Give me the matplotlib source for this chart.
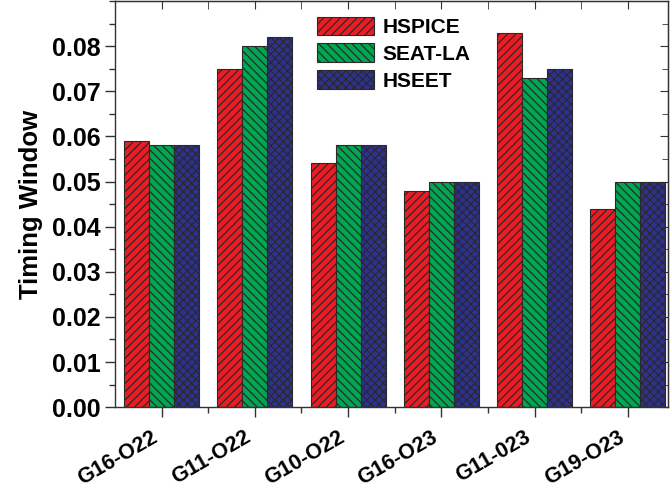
import numpy as np
import matplotlib
matplotlib.use("Agg")
import matplotlib.pyplot as plt
from matplotlib.ticker import MultipleLocator, FixedLocator, FormatStrFormatter

plt.rcParams["font.family"] = ["Liberation Sans", "DejaVu Sans"]
plt.rcParams["font.weight"] = "bold"
plt.rcParams["hatch.linewidth"] = 0.9
plt.rcParams["hatch.color"] = "#2a2a2a"

# ─── Data ─────────────────────────────────────────────────────────────────────
groups = ["G16-O22", "G11-O22", "G10-O22", "G16-O23", "G11-023", "G19-O23"]
hspice = [0.059, 0.075, 0.054, 0.048, 0.083, 0.044]
seat_la = [0.058, 0.080, 0.058, 0.050, 0.073, 0.050]
hseet = [0.058, 0.082, 0.058, 0.050, 0.075, 0.050]
y_ticks = [0.00, 0.01, 0.02, 0.03, 0.04, 0.05, 0.06, 0.07, 0.08]

series = [
    ("HSPICE", hspice, "#ED1C24", "////"),
    ("SEAT-LA", seat_la, "#00A651", "\\\\\\\\"),
    ("HSEET", hseet, "#2E3192", "xxxx"),
]

# ─── Plot ─────────────────────────────────────────────────────────────────────
fig = plt.figure(figsize=(6.72, 4.9), dpi=100)
ax = fig.add_axes([0.171, 0.169, 0.823, 0.829])

x = np.arange(1, len(groups) + 1)
width = 0.268
for i, (name, vals, color, hatch) in enumerate(series):
    ax.bar(x + (i - 1) * width, vals, width, color=color, hatch=hatch,
           edgecolor="#2a2a2a", linewidth=0.8, label=name)

ax.set_xlim(0.5, 6.43)
ax.set_ylim(0, 0.09)

ax.xaxis.set_major_locator(FixedLocator(x))
ax.xaxis.set_minor_locator(FixedLocator(x[:-1] + 0.5))
ax.yaxis.set_major_locator(FixedLocator(y_ticks))
ax.yaxis.set_minor_locator(MultipleLocator(0.005))
ax.yaxis.set_major_formatter(FormatStrFormatter("%.2f"))

ax.set_xticklabels(groups, rotation=30, ha="right", va="top",
                   fontsize=15.5, fontweight="bold")
ax.tick_params(axis="y", labelsize=18)
ax.tick_params(axis="both", which="major", length=7, width=1, color="#333333")
ax.tick_params(axis="both", which="minor", length=4, width=1, color="#333333")
ax.tick_params(axis="x", which="major", pad=7)
ax.tick_params(axis="both", which="both", direction="out")

# inward ticks on the top and right frame
ax2 = ax.secondary_xaxis("top")
ax2.xaxis.set_major_locator(FixedLocator(x))
ax2.xaxis.set_minor_locator(FixedLocator(x[:-1] + 0.5))
ax2.tick_params(which="both", direction="in", labeltop=False, length=6, color="#333333")
ax2.set_xticklabels([])
ax3 = ax.secondary_yaxis("right")
ax3.yaxis.set_major_locator(FixedLocator(y_ticks))
ax3.yaxis.set_minor_locator(MultipleLocator(0.005))
ax3.tick_params(which="major", direction="in", length=6, color="#333333")
ax3.tick_params(which="minor", direction="in", length=4, color="#333333")
ax3.set_yticklabels([])

for s in ax.spines.values():
    s.set_color("#333333")
    s.set_linewidth(1)

ax.set_ylabel("Timing Window", fontsize=18.5, fontweight="bold", labelpad=6)

ax.legend(loc="upper left", bbox_to_anchor=(0.351, 0.982), frameon=False,
          handlelength=2.74, handleheight=1.0, labelspacing=0.3,
          handletextpad=0.4, borderaxespad=0,
          prop={"weight": "bold", "size": 15})

fig.savefig("out.png", dpi=100)
